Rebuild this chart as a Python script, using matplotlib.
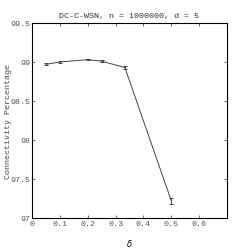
import matplotlib
matplotlib.use('agg')
import matplotlib.pyplot as plt
import numpy as np

delta = [0.05, 0.1, 0.2, 0.25, 1/3, 0.5]
conn = [98.97, 99.0, 99.03, 99.01, 98.93, 97.22]
err = [0.012, 0.01, 0.01, 0.01, 0.02, 0.035]

plt.rcParams['font.family'] = 'Liberation Mono'
plt.rcParams['font.size'] = 6

fig = plt.figure(figsize=(2.51, 2.53), dpi=100)
ax = fig.add_axes([32/251, 1-219/253, 195/251, 195/253])
ax.errorbar(delta, conn, yerr=err, color='#444444', lw=0.7, capsize=1.5, elinewidth=0.7, capthick=0.7)
ax.set_xlim(0, 0.7)
ax.set_ylim(97, 99.5)
ax.set_xticks([0, 0.1, 0.2, 0.3, 0.4, 0.5, 0.6])
ax.set_xticklabels(['0', '0.1', '0.2', '0.3', '0.4', '0.5', '0.6'])
ax.set_yticks([97, 97.5, 98, 98.5, 99, 99.5])
ax.set_yticklabels(['97', '97.5', '98', '98.5', '99', '99.5'])
ax.tick_params(direction='in', top=True, right=True, length=2, width=0.5, pad=1.5, colors='#333333', labelcolor='#555555')
for s in ax.spines.values():
    s.set_linewidth(0.8)
ax.set_title('DC-C-WSN, n = 1000000, d = 5', fontsize=6, pad=4, color='#333333')
ax.set_xlabel(r'$\delta$', fontsize=6)
ax.set_ylabel('Connectivity Percentage', fontsize=6, color='#444444')
ax.yaxis.set_label_coords(-0.105, 0.5)
ax.xaxis.set_label_coords(0.5, -0.095)
fig.savefig('out.png', dpi=100)
